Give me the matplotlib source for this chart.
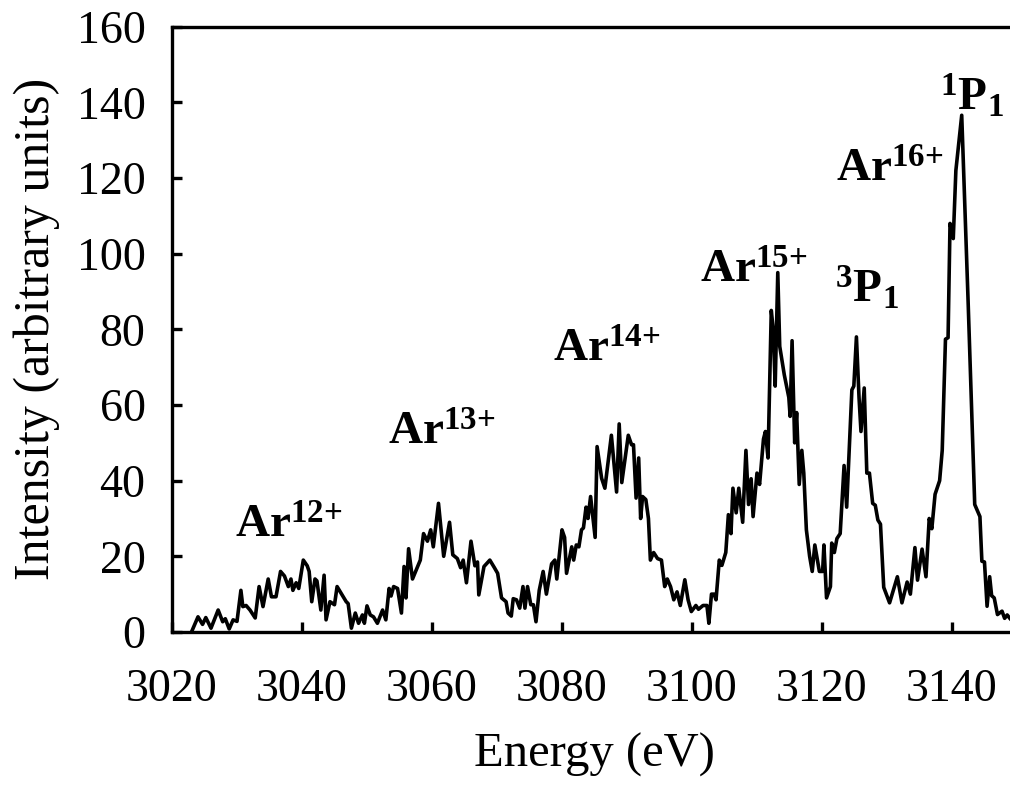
import matplotlib
matplotlib.use('Agg')
import matplotlib.pyplot as plt
import numpy as np

plt.rcParams['font.family'] = 'Liberation Serif'
plt.rcParams['mathtext.fontset'] = 'custom'
plt.rcParams['mathtext.rm'] = 'Liberation Serif'
plt.rcParams['mathtext.bf'] = 'Liberation Serif:bold'
plt.rcParams['mathtext.it'] = 'Liberation Serif:italic'

# spectrum (energy in eV, intensity in arbitrary units)
energy = [3023.0, 3024.0, 3024.7, 3025.2, 3026.0, 3027.1, 3027.8, 3028.2, 3028.8, 3029.4,
          3030.0, 3030.6, 3030.9, 3031.4, 3032.0, 3032.8, 3033.4, 3034.0, 3034.8, 3035.3,
          3036.0, 3036.7, 3037.3, 3037.9, 3038.3, 3038.6, 3039.1, 3039.5, 3040.2, 3040.8,
          3041.1, 3041.5, 3042.0, 3042.3, 3042.9, 3043.4, 3043.7, 3044.3, 3045.0, 3045.4,
          3046.1, 3046.8, 3047.1, 3047.6, 3048.2, 3048.7, 3049.3, 3049.6, 3050.0, 3050.5,
          3051.0, 3051.6, 3052.4, 3052.9, 3053.4, 3053.7, 3054.1, 3054.7, 3055.3, 3055.7,
          3056.0, 3056.4, 3057.0, 3057.6, 3058.2, 3058.7, 3059.3, 3059.8, 3060.2, 3061.0,
          3061.8, 3062.7, 3063.2, 3063.9, 3064.4, 3064.8, 3065.3, 3066.0, 3066.6, 3067.0,
          3067.2, 3068.0, 3068.9, 3069.6, 3070.1, 3070.7, 3071.4, 3071.7, 3072.2, 3072.5,
          3073.0, 3073.5, 3074.0, 3074.3, 3074.7, 3075.2, 3075.6, 3076.0, 3076.5, 3077.1,
          3077.6, 3078.4, 3078.9, 3079.2, 3080.0, 3080.4, 3080.7, 3081.5, 3081.8, 3082.2,
          3082.6, 3083.0, 3083.3, 3083.7, 3084.0, 3084.4, 3085.1, 3085.4, 3086.1, 3086.6,
          3087.6, 3088.4, 3088.8, 3089.2, 3090.2, 3090.7, 3091.0, 3091.4, 3091.8, 3092.1,
          3092.4, 3092.9, 3093.3, 3093.6, 3094.1, 3094.7, 3095.3, 3095.8, 3096.2, 3096.7,
          3097.2, 3097.7, 3098.2, 3098.9, 3099.4, 3099.9, 3100.6, 3101.0, 3101.7, 3102.3,
          3102.6, 3103.0, 3103.4, 3103.7, 3104.2, 3104.6, 3105.2, 3105.6, 3106.0, 3106.3,
          3106.8, 3107.2, 3107.8, 3108.3, 3108.7, 3109.1, 3109.4, 3110.0, 3110.4, 3111.0,
          3111.3, 3111.7, 3112.2, 3112.5, 3112.8, 3113.2, 3113.5, 3114.2, 3114.9, 3115.1,
          3115.4, 3115.8, 3116.1, 3116.5, 3116.9, 3117.2, 3117.6, 3118.1, 3118.5, 3118.9,
          3119.6, 3120.1, 3120.3, 3120.7, 3121.3, 3121.5, 3121.9, 3122.3, 3122.8, 3123.4,
          3123.8, 3124.6, 3124.9, 3125.3, 3125.7, 3126.0, 3126.5, 3126.9, 3127.3, 3127.8,
          3128.2, 3128.6, 3129.0, 3129.5, 3130.4, 3131.6, 3132.3, 3133.1, 3133.6, 3134.3,
          3134.7, 3135.4, 3136.0, 3136.5, 3136.9, 3137.4, 3138.1, 3138.5, 3139.0, 3139.4,
          3139.7, 3140.2, 3140.6, 3141.5, 3142.5, 3143.5, 3144.3, 3144.6, 3145.0, 3145.4,
          3145.8, 3146.1, 3146.5, 3147.0, 3147.7, 3148.1, 3148.5, 3148.9, 3149.5, 3150.0]
intensity = [0.0, 4.0, 2.0, 3.8, 1.0, 5.8, 2.7, 3.5, 0.8, 3.2,
             2.8, 11.0, 6.7, 7.0, 5.8, 3.7, 12.0, 6.7, 14.0, 9.3,
             9.3, 16.0, 14.8, 12.0, 14.0, 11.0, 13.0, 11.5, 19.0, 17.5,
             16.0, 8.0, 14.0, 13.5, 5.8, 15.0, 3.2, 8.0, 7.2, 12.0,
             10.0, 8.0, 7.5, 1.0, 5.0, 2.3, 4.5, 2.3, 6.9, 4.5,
             4.0, 2.3, 5.8, 3.2, 11.5, 9.5, 12.0, 11.5, 5.0, 17.3,
             9.0, 22.0, 14.0, 16.5, 19.0, 26.0, 24.0, 27.0, 22.5, 34.0,
             20.0, 29.0, 20.4, 19.4, 17.0, 19.0, 13.0, 24.0, 17.5, 18.5,
             9.8, 17.3, 19.0, 17.0, 15.5, 9.0, 8.0, 5.0, 4.2, 8.8,
             8.5, 6.3, 12.0, 6.3, 12.0, 7.2, 7.2, 2.7, 11.0, 16.0,
             10.0, 18.0, 19.0, 14.0, 27.0, 25.0, 15.5, 22.5, 19.0, 23.0,
             22.5, 27.0, 27.5, 33.0, 30.0, 35.8, 25.0, 49.0, 40.6, 38.0,
             52.0, 37.0, 55.0, 39.5, 52.0, 49.5, 49.5, 35.4, 46.0, 30.0,
             35.8, 35.0, 30.0, 19.0, 21.0, 19.4, 19.0, 12.0, 14.0, 12.0,
             8.5, 10.6, 7.0, 13.8, 8.5, 5.4, 7.0, 6.0, 7.0, 7.0,
             2.3, 10.0, 10.0, 8.5, 19.0, 17.6, 21.0, 31.0, 26.0, 38.0,
             31.5, 38.0, 29.0, 48.0, 33.7, 40.5, 30.5, 42.0, 39.0, 51.0,
             53.0, 46.0, 85.0, 80.0, 65.0, 95.0, 75.5, 68.0, 62.0, 57.0,
             77.0, 50.0, 58.0, 39.0, 48.0, 42.0, 27.0, 20.0, 16.0, 23.0,
             16.0, 16.0, 23.0, 9.0, 12.0, 23.5, 21.0, 24.7, 26.0, 44.0,
             33.0, 64.0, 65.0, 78.0, 62.0, 53.0, 64.5, 42.0, 42.0, 34.0,
             33.5, 29.6, 28.5, 11.8, 7.7, 14.6, 7.7, 13.2, 10.0, 22.3,
             13.7, 21.9, 14.6, 30.0, 27.3, 36.4, 40.0, 48.0, 77.4, 77.8,
             108.0, 104.0, 122.0, 136.6, 86.5, 33.7, 30.5, 18.7, 18.5, 6.8,
             14.6, 9.6, 9.0, 4.6, 5.5, 3.6, 4.5, 3.6, 2.5, 2.0]

# peak labels: text, left x (eV), baseline y
peak_labels = [r'$\mathbf{Ar}^{\mathbf{12{+}}}$', r'$\mathbf{Ar}^{\mathbf{13{+}}}$',
               r'$\mathbf{Ar}^{\mathbf{14{+}}}$', r'$\mathbf{Ar}^{\mathbf{15{+}}}$',
               r'${}^{\mathbf{3}}\mathbf{P}_{\mathbf{1}}$', r'$\mathbf{Ar}^{\mathbf{16{+}}}$',
               r'${}^{\mathbf{1}}\mathbf{P}_{\mathbf{1}}$']
label_x = [3029.7, 3053.2, 3078.6, 3101.2, 3122.0, 3122.2, 3138.2]
label_y = [25.0, 49.5, 71.4, 92.3, 87.0, 119.0, 138.0]

fig = plt.figure(figsize=(10.1, 7.87), dpi=100)
ax = fig.add_axes([0.1703, 0.197, 0.8366, 0.769])
ax.plot(energy, intensity, color='black', lw=2.6)

for t, x, y in zip(peak_labels, label_x, label_y):
    ax.text(x, y, t, fontsize=34, ha='left', va='baseline')

ax.set_xlim(3020, 3150)
ax.set_ylim(0, 160)
ax.set_xticks(np.arange(3020, 3141, 20))
ax.set_yticks(np.arange(0, 161, 20))
ax.tick_params(direction='in', length=7, width=2.4, labelsize=33,
               top=False, right=False)
ax.tick_params(axis='x', pad=26)
ax.tick_params(axis='y', pad=19)
for s in ax.spines.values():
    s.set_linewidth(2.4)
ax.spines['right'].set_visible(False)

ax.set_xlabel('Energy (eV)', fontsize=35, labelpad=16)
ax.set_ylabel('Intensity (arbitrary units)', fontsize=36, labelpad=12)

fig.savefig('out.png', dpi=100)
